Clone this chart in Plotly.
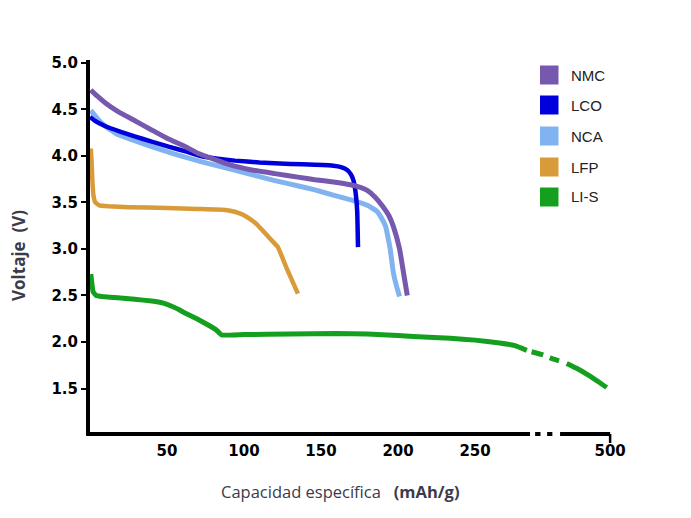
import plotly.graph_objects as go

# ---------------- data (capacity in mAh/g, voltage in V) ----------------
nmc_x = [0.5, 5, 10, 18, 28, 40, 50, 62, 70, 79, 90, 105, 120, 136, 146, 158, 169, 176, 180, 185, 190, 194, 197, 201, 203.5, 206]
nmc_y = [4.71, 4.64, 4.57, 4.48, 4.39, 4.28, 4.19, 4.10, 4.03, 3.975, 3.91, 3.85, 3.81, 3.77, 3.745, 3.72, 3.69, 3.66, 3.63, 3.56, 3.46, 3.36, 3.24, 3.00, 2.75, 2.50]

lco_x = [0, 3, 10, 20, 29, 40, 51, 62, 72, 83, 94, 110, 130, 146, 158, 163, 167, 169.5, 171, 172.5, 173.5, 174]
lco_y = [4.42, 4.38, 4.32, 4.26, 4.21, 4.155, 4.10, 4.05, 4.00, 3.97, 3.95, 3.93, 3.915, 3.905, 3.895, 3.88, 3.85, 3.80, 3.74, 3.60, 3.40, 3.02]

nca_x = [0.5, 3, 6, 10, 18, 28, 40, 55, 72, 90, 105, 120, 136, 146, 158, 170, 180, 186, 189, 192, 194, 195, 197, 199, 201]
nca_y = [4.49, 4.44, 4.38, 4.32, 4.23, 4.17, 4.10, 4.02, 3.94, 3.865, 3.80, 3.735, 3.675, 3.635, 3.58, 3.525, 3.47, 3.41, 3.34, 3.24, 3.08, 2.99, 2.74, 2.60, 2.49]

lfp_x = [0.5, 1, 1.5, 2.2, 3.5, 6, 12, 25, 50, 70, 88, 94, 99, 104, 108, 112, 117, 122, 128, 135]
lfp_y = [4.08, 3.95, 3.75, 3.58, 3.50, 3.47, 3.46, 3.45, 3.44, 3.43, 3.42, 3.40, 3.37, 3.32, 3.27, 3.20, 3.11, 3.02, 2.78, 2.52]

lis_x = [0.5, 1, 2, 4, 8, 18, 29, 40, 47, 55, 62, 70, 77, 82, 85.5, 100, 130, 160, 180, 200, 220, 234, 250, 266, 276, 283.6]
lis_y = [2.73, 2.66, 2.54, 2.50, 2.49, 2.475, 2.46, 2.44, 2.42, 2.37, 2.31, 2.245, 2.18, 2.13, 2.075, 2.08, 2.085, 2.09, 2.085, 2.07, 2.05, 2.04, 2.02, 1.99, 1.96, 1.91]
lis_gap_x = [292, 323, 341, 367]
lis_gap_y = [1.895, 1.86, 1.83, 1.795]
lis_end_x = [385, 410, 440, 470, 491]
lis_end_y = [1.77, 1.72, 1.65, 1.57, 1.51]

names = ["NMC", "LCO", "NCA", "LFP", "LI-S"]
colors = ["#7658AE", "#0000DD", "#80B3F0", "#D99A3A", "#14A01E"]

x_ticks = [50, 100, 150, 200, 250, 500]
y_ticks = [1.5, 2.0, 2.5, 3.0, 3.5, 4.0, 4.5, 5.0]

# ---------------- layout constants ----------------
W, H = 691, 518
ML, MR, MT, MB = 90, 51, 60, 83
X_MAX = 357.1
Y_MIN, Y_MAX = 1.0, 5.032
BREAK_AT = 285.0      # axis is broken after this capacity
AXIS_END = 500.0      # last labelled capacity
AXIS_END_POS = 337.7  # axis position of that label


def pos(c):
    if c <= BREAK_AT:
        return c
    return BREAK_AT + (c - BREAK_AT) * (AXIS_END_POS - BREAK_AT) / (AXIS_END - BREAK_AT)


def px_x(px):
    return (px - ML) / (W - ML - MR)


def px_y(py):
    return (H - MB - py) / (H - MT - MB)


fig = go.Figure()


def add_line(xs, ys, color, width=5, dash=None):
    fig.add_trace(go.Scatter(
        x=[pos(v) for v in xs], y=ys, mode="lines",
        line=dict(color=color, width=width, shape="spline", smoothing=0.3, dash=dash),
        showlegend=False, hoverinfo="skip"))


add_line(lfp_x, lfp_y, colors[3], 4.5)
add_line(lis_x, lis_y, colors[4], 5)
add_line(lis_gap_x, lis_gap_y, colors[4], 5, dash="12px,7px,10px,60px")
add_line(lis_end_x, lis_end_y, colors[4], 5)
add_line(nca_x, nca_y, colors[2], 5)
add_line(lco_x, lco_y, colors[1], 4.5)
add_line(nmc_x, nmc_y, colors[0], 5)

shapes = []
# broken x axis line (axis units -> paper)
for a, b in [(-2.5, 285.7), (289.0, 292.5), (296.8, 300.2), (305.2, AXIS_END_POS)]:
    shapes.append(dict(type="line", xref="paper", yref="paper",
                       x0=a / X_MAX, x1=b / X_MAX, y0=px_y(434), y1=px_y(434),
                       line=dict(color="black", width=4)))
shapes.append(dict(type="line", xref="paper", yref="paper",
                   x0=AXIS_END_POS / X_MAX, x1=AXIS_END_POS / X_MAX,
                   y0=px_y(434), y1=px_y(443), line=dict(color="black", width=2.5)))

annotations = []
# manual legend
leg_y = [75, 105, 136, 167, 197]
for name, col, cy in zip(names, colors, leg_y):
    shapes.append(dict(type="rect", xref="paper", yref="paper",
                       x0=px_x(540), x1=px_x(558.5), y0=px_y(cy - 9.5), y1=px_y(cy + 9.5),
                       fillcolor=col, line=dict(width=0)))
    annotations.append(dict(text=name, xref="paper", yref="paper", x=px_x(569), y=px_y(cy),
                            xanchor="left", yanchor="middle", showarrow=False,
                            font=dict(family="Liberation Sans, Arial", size=15, color="#222222")))

# axis titles
annotations.append(dict(text="Voltaje\u00a0\u00a0(V)", xref="paper", yref="paper",
                        x=px_x(19), y=px_y(256), textangle=-90, showarrow=False,
                        xanchor="center", yanchor="middle",
                        font=dict(family="Open Sans", size=17, color="#3b3b4b", weight="bold")))
annotations.append(dict(text="Capacidad específica\u00a0\u00a0\u00a0<b>(mAh/g)</b>", xref="paper", yref="paper",
                        x=px_x(340), y=px_y(491), showarrow=False,
                        xanchor="center", yanchor="middle",
                        font=dict(family="Open Sans", size=16.5, color="#3b3b4b")))

fig.update_layout(
    width=W, height=H,
    margin=dict(l=ML, r=MR, t=MT, b=MB, autoexpand=False),
    paper_bgcolor="white", plot_bgcolor="white",
    shapes=shapes, annotations=annotations, showlegend=False,
    xaxis=dict(range=[0, X_MAX], showgrid=False, zeroline=False, showline=False,
               tickvals=[pos(v) for v in x_ticks], ticktext=[str(v) for v in x_ticks],
               ticks="", ticklabelstandoff=5,
               tickfont=dict(family="DejaVu Sans", size=15, color="black", weight="bold")),
    yaxis=dict(range=[Y_MIN, Y_MAX], showgrid=False, zeroline=False,
               showline=True, linecolor="black", linewidth=4,
               tickvals=y_ticks, ticktext=[f"{v:.1f}" for v in y_ticks],
               ticks="outside", ticklen=5, tickwidth=2, tickcolor="black",
               tickfont=dict(family="DejaVu Sans", size=15, color="black", weight="bold")),
)

fig.write_html("out.html")
